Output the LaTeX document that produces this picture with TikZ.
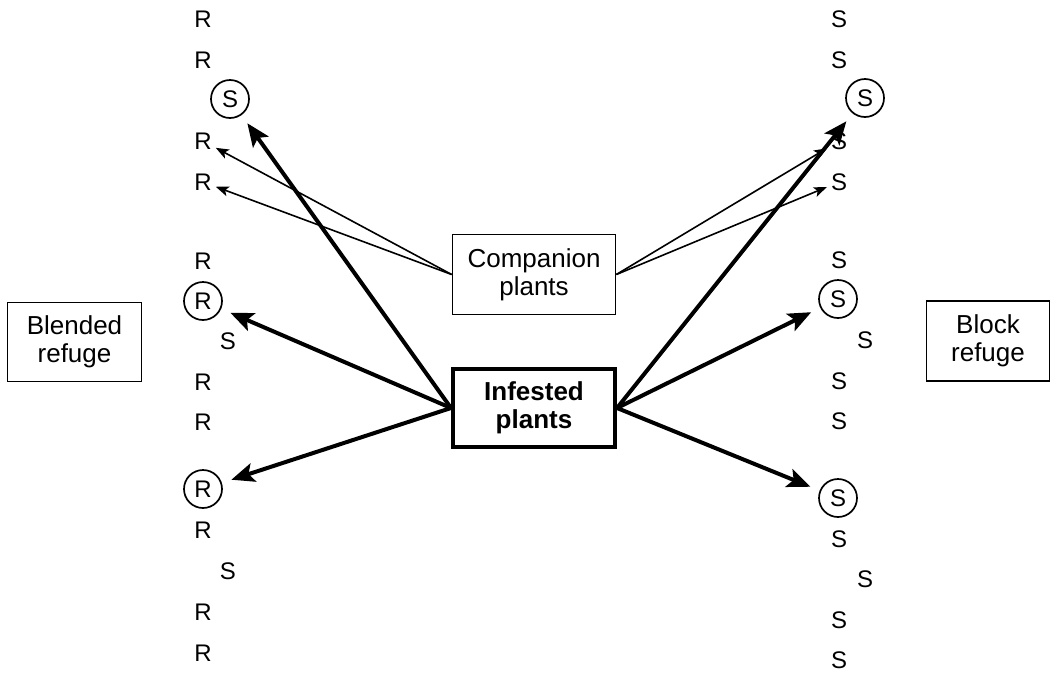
\documentclass[tikz,border=0pt]{standalone}
\usepackage{fontspec}
\setmainfont{Liberation Sans}
\usetikzlibrary{arrows.meta}
\begin{document}
\begin{tikzpicture}[x=1pt,y=-1pt,
  lt/.style={font=\fontsize{24}{28}\selectfont, inner sep=3pt},
  ct/.style={circle, draw, line width=1.7pt, minimum size=38pt, inner sep=0pt, font=\fontsize{24}{28}\selectfont},
  box/.style={draw, line width=1.7pt, align=center, font=\fontsize{26}{28}\selectfont, inner sep=0pt},
  bigbox/.style={draw, line width=4pt, align=center, font=\bfseries\fontsize{26}{28}\selectfont, inner sep=0pt},
  bigarrow/.style={line width=4pt, -{Stealth[length=23pt,width=19pt,inset=5pt]}, shorten >=10pt},
  smallarrow/.style={line width=1.6pt, -{Stealth[length=13pt,width=10pt,inset=3pt]}, shorten >=1pt},
]
\useasboundingbox (0,0) rectangle (1051,675);

% boxes
\node[box, minimum width=163pt, minimum height=80pt] (comp) at (534,274.5) {Companion\\plants};
\node[bigbox, minimum width=162pt, minimum height=78pt] (inf) at (534,408) {Infested\\plants};
\node[box, minimum width=134pt, minimum height=79pt] (blend) at (74.5,342) {Blended\\refuge};
\node[box, minimum width=123pt, minimum height=80pt] (block) at (988,341) {Block\\refuge};

% left column
\node[lt] (l1) at (203,19) {R};
\node[lt] (l2) at (203,60) {R};
\node[ct] (l3) at (230,99) {S};
\node[lt] (l4) at (203,141) {R};
\node[lt] (l5) at (203,182) {R};
\node[lt] (l6) at (203,261) {R};
\node[ct] (l7) at (203,301) {R};
\node[lt] (l8) at (228,341) {S};
\node[lt] (l9) at (203,382) {R};
\node[lt] (l10) at (203,422) {R};
\node[ct] (l11) at (203,489) {R};
\node[lt] (l12) at (203,530) {R};
\node[lt] (l13) at (228,571) {S};
\node[lt] (l14) at (203,612) {R};
\node[lt] (l15) at (203,653) {R};

% right column
\node[lt] (r1) at (839,19) {S};
\node[lt] (r2) at (839,60) {S};
\node[ct] (r3) at (865,98) {S};
\node[lt] (r4) at (839,141) {S};
\node[lt] (r5) at (839,182) {S};
\node[lt] (r6) at (839,260) {S};
\node[ct] (r7) at (838,299) {S};
\node[lt] (r8) at (865,340) {S};
\node[lt] (r9) at (839,381) {S};
\node[lt] (r10) at (839,421) {S};
\node[ct] (r11) at (838,498) {S};
\node[lt] (r12) at (839,539) {S};
\node[lt] (r13) at (865,579) {S};
\node[lt] (r14) at (839,620) {S};
\node[lt] (r15) at (839,660) {S};

% thin arrows from companion plants
\draw[smallarrow] (comp.west) -- (l4);
\draw[smallarrow] (comp.west) -- (l5);
\draw[smallarrow] (comp.east) -- (r4);
\draw[smallarrow] (comp.east) -- (r5);

% thick arrows from infested plants
\draw[bigarrow] (inf.west) -- (l3);
\draw[bigarrow] (inf.west) -- (l7);
\draw[bigarrow] (inf.west) -- (l11);
\draw[bigarrow] (inf.east) -- (r3);
\draw[bigarrow] (inf.east) -- (r7);
\draw[bigarrow] (inf.east) -- (r11);
\end{tikzpicture}
\end{document}
